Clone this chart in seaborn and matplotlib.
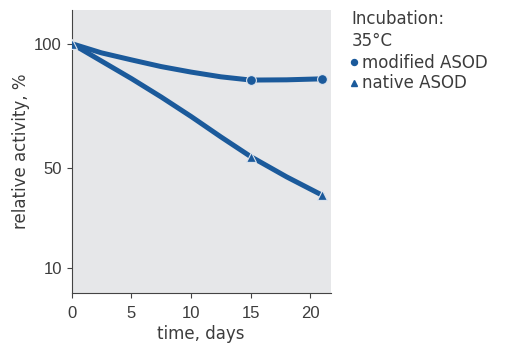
import matplotlib
matplotlib.use("Agg")
import matplotlib.pyplot as plt
import seaborn as sns
import pandas as pd
from matplotlib.lines import Line2D

# curve readings (days, relative activity %)
curve_days = [0, 2.5, 5, 7.5, 10, 12.5, 15, 18, 21]
modified_curve = [100, 96.3, 93.5, 90.8, 88.6, 86.7, 85.4, 85.5, 85.9]
native_curve = [100, 93.0, 86.0, 78.6, 70.8, 62.6, 54.7, 46.6, 39.2]

# measured points (markers)
modified_days = [15, 21]
modified_pts = [85.4, 85.9]
native_days = [0, 15, 21]
native_pts = [100, 54.7, 39.2]

x_ticks = [0, 5, 10, 15, 20]
y_ticks = [10, 50, 100]

legend_title = "Incubation:\n35°C"
series_labels = ["modified ASOD", "native ASOD"]

blue = "#1b5a9b"
text_col = "#3c3c3c"

sns.set_theme(style="white")
plt.rcParams['font.family'] = ['DejaVu Sans']

fig = plt.figure(figsize=(5.05, 3.44), dpi=100)
ax = fig.add_axes([0.142, 0.148, 0.513, 0.823])
ax.set_facecolor("#e6e7e9")

df_curve = pd.DataFrame({"day": curve_days * 2,
                         "val": modified_curve + native_curve,
                         "s": [series_labels[0]] * len(curve_days) + [series_labels[1]] * len(curve_days)})
sns.lineplot(data=df_curve, x="day", y="val", units="s", estimator=None,
             color=blue, linewidth=3.6, ax=ax, legend=False, solid_capstyle="round",
             solid_joinstyle="round")

sns.scatterplot(x=modified_days, y=modified_pts, marker="o", s=50, color=blue,
                edgecolor="#dde4ee", linewidth=0.8, ax=ax, zorder=5)
sns.scatterplot(x=native_days, y=native_pts, marker="^", s=50, color=blue,
                edgecolor="#dde4ee", linewidth=0.8, ax=ax, zorder=5)

ax.set_xlim(0, 21.7)
ax.set_ylim(0, 113.5)
ax.set_xticks(x_ticks)
ax.set_yticks(y_ticks)
ax.set_xlabel("time, days", fontsize=12, color=text_col, labelpad=3)
ax.set_ylabel("relative activity, %", fontsize=12, color=text_col, labelpad=3)
ax.tick_params(axis="both", which="major", direction="out", length=3.6, width=0.8,
               colors="#444444", labelcolor=text_col, labelsize=12, pad=3.5)
ax.tick_params(axis="x", pad=5.5)
ax.tick_params(axis="both", bottom=True, left=True)
for lab in ax.get_xticklabels() + ax.get_yticklabels():
    lab.set_fontfamily("Liberation Sans")
for side in ["top", "right"]:
    ax.spines[side].set_visible(False)
for side in ["left", "bottom"]:
    ax.spines[side].set_color("#444444")
    ax.spines[side].set_linewidth(0.8)

handles = [Line2D([], [], marker="o", linestyle="none", color=blue, markersize=4.3),
           Line2D([], [], marker="^", linestyle="none", color=blue, markersize=4.3)]
leg = fig.legend(handles, series_labels, title=legend_title, loc="upper left",
                 bbox_to_anchor=(0.696, 0.972), frameon=False, fontsize=12,
                 title_fontsize=12, handlelength=0.35, handletextpad=0.3,
                 labelspacing=0.15, borderaxespad=0, borderpad=0.0)
leg._legend_box.align = "left"
leg._legend_box.sep = 3
for t in leg.get_texts():
    t.set_color(text_col)
leg.get_title().set_color(text_col)
leg.get_title().set_linespacing(1.3)

fig.savefig("out.png", dpi=100, facecolor="white")
